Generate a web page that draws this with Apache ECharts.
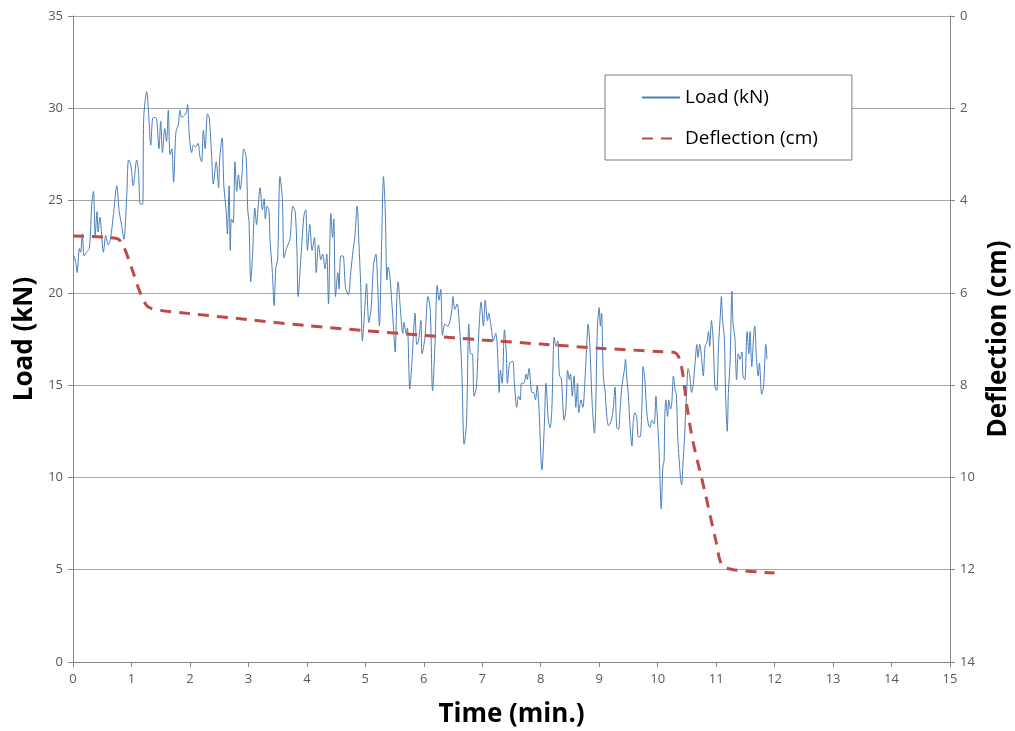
<!DOCTYPE html>
<html>
<head>
<meta charset="utf-8">
<script src="https://cdn.jsdelivr.net/npm/echarts@6/dist/echarts.min.js"></script>
<style>html,body{margin:0;padding:0;background:#fff}#c{width:1015px;height:731px}</style>
</head>
<body>
<div id="c"></div>
<script>
var loadTime = [0.02,0.05,0.07,0.11,0.13,0.16,0.19,0.23,0.28,0.32,0.35,0.38,0.41,0.43,0.46,0.52,0.56,0.60,0.64,0.69,0.75,0.79,0.83,0.87,0.92,0.95,0.99,1.03,1.09,1.12,1.15,1.19,1.21,1.26,1.29,1.33,1.37,1.42,1.47,1.50,1.53,1.57,1.60,1.63,1.66,1.69,1.72,1.76,1.80,1.83,1.86,1.90,1.94,1.96,1.99,2.03,2.06,2.10,2.14,2.17,2.20,2.23,2.26,2.30,2.33,2.37,2.40,2.45,2.49,2.51,2.55,2.58,2.62,2.64,2.67,2.69,2.71,2.74,2.77,2.80,2.83,2.86,2.89,2.92,2.96,2.99,3.01,3.04,3.07,3.11,3.14,3.17,3.20,3.24,3.27,3.29,3.32,3.35,3.37,3.41,3.44,3.47,3.50,3.54,3.58,3.61,3.65,3.71,3.76,3.80,3.83,3.85,3.90,3.95,3.98,4.01,4.05,4.09,4.13,4.16,4.20,4.24,4.27,4.31,4.34,4.37,4.41,4.44,4.46,4.49,4.53,4.55,4.58,4.62,4.66,4.71,4.75,4.79,4.82,4.86,4.89,4.92,4.95,4.98,5.02,5.06,5.10,5.14,5.18,5.21,5.24,5.28,5.31,5.34,5.37,5.39,5.42,5.45,5.48,5.51,5.54,5.56,5.60,5.64,5.66,5.70,5.72,5.76,5.80,5.85,5.88,5.91,5.95,5.97,6.02,6.07,6.11,6.15,6.19,6.23,6.26,6.29,6.32,6.36,6.41,6.45,6.48,6.50,6.53,6.57,6.61,6.65,6.69,6.73,6.77,6.80,6.83,6.86,6.90,6.94,6.98,7.02,7.05,7.09,7.11,7.15,7.19,7.23,7.26,7.29,7.31,7.34,7.38,7.41,7.43,7.47,7.52,7.55,7.59,7.62,7.65,7.67,7.71,7.75,7.77,7.80,7.85,7.88,7.91,7.94,7.97,8.02,8.06,8.09,8.13,8.16,8.19,8.23,8.26,8.29,8.32,8.35,8.38,8.40,8.43,8.46,8.49,8.51,8.54,8.57,8.60,8.63,8.65,8.69,8.72,8.76,8.79,8.81,8.84,8.88,8.92,8.94,8.97,9.00,9.02,9.04,9.07,9.10,9.13,9.16,9.18,9.21,9.24,9.27,9.30,9.33,9.36,9.39,9.43,9.45,9.47,9.50,9.53,9.56,9.58,9.61,9.64,9.67,9.70,9.73,9.75,9.78,9.81,9.84,9.87,9.90,9.94,9.97,9.99,10.02,10.04,10.06,10.09,10.11,10.12,10.14,10.17,10.19,10.22,10.24,10.27,10.30,10.32,10.34,10.36,10.39,10.41,10.43,10.46,10.48,10.50,10.52,10.55,10.58,10.61,10.64,10.67,10.69,10.72,10.75,10.78,10.81,10.84,10.87,10.89,10.92,10.95,10.98,11.01,11.04,11.07,11.09,11.11,11.14,11.16,11.19,11.21,11.24,11.27,11.29,11.32,11.35,11.38,11.41,11.44,11.46,11.49,11.53,11.56,11.58,11.61,11.64,11.66,11.69,11.72,11.74,11.78,11.81,11.85,11.87];
var loadValues = [22.0,21.6,21.1,22.4,22.2,23.2,22.0,22.2,22.4,24.8,25.5,23.1,24.4,23.3,24.1,22.2,23.1,22.6,22.9,24.2,25.8,24.4,23.7,22.9,25.3,27.2,26.9,25.8,27.2,26.6,24.8,24.8,29.5,30.9,29.9,28.0,29.5,29.5,27.8,29.3,27.6,28.9,28.2,29.9,27.5,27.8,26.0,28.7,29.1,29.9,29.5,29.6,29.8,30.2,28.5,27.6,28.0,27.9,28.1,27.4,27.1,28.8,27.8,29.7,29.5,27.5,25.9,27.1,25.7,27.3,28.4,25.8,24.4,23.2,25.8,22.3,24.0,23.8,27.1,25.5,26.4,25.6,26.4,27.8,27.4,24.4,23.9,20.6,22.0,24.6,23.7,24.8,25.7,24.5,25.1,24.0,24.7,24.5,22.9,21.1,19.3,21.4,21.8,26.3,25.1,21.9,22.4,22.9,24.7,24.4,22.3,19.8,22.0,24.2,24.5,22.3,23.7,22.3,23.0,21.1,22.6,21.8,22.1,21.3,22.1,19.4,24.3,23.0,24.0,19.8,21.1,20.2,22.0,22.0,20.3,19.9,21.1,22.3,23.0,24.7,22.7,20.5,17.4,18.6,20.5,18.4,19.2,21.5,22.1,20.5,18.2,22.9,26.3,24.5,20.7,21.4,20.9,19.6,18.2,16.8,19.8,20.6,19.1,17.8,18.4,17.8,18.1,14.8,16.4,18.9,17.2,17.4,18.5,16.7,17.6,19.8,19.1,14.7,17.1,20.4,19.6,20.2,17.7,18.3,18.2,18.5,19.1,19.8,19.1,19.4,18.2,15.8,11.8,12.9,18.3,16.7,16.7,14.4,14.9,17.8,19.5,18.2,19.6,18.5,18.9,18.2,17.4,17.8,16.9,14.6,15.8,15.1,18.0,16.8,15.1,16.2,16.3,15.1,13.8,14.4,14.2,15.1,15.1,15.6,15.3,15.9,14.6,14.6,14.2,15.0,13.7,10.4,12.7,15.1,13.1,12.7,13.7,17.6,17.1,17.4,15.5,15.4,13.8,13.1,13.7,15.8,15.3,15.6,14.4,15.5,13.8,15.1,13.5,14.2,13.8,15.5,17.4,18.3,17.1,14.0,12.4,13.8,18.2,19.2,18.2,18.9,15.5,14.7,13.3,12.8,12.9,13.1,13.7,14.9,12.7,12.6,13.8,15.0,15.8,16.4,15.5,14.4,12.7,11.7,12.9,13.5,13.3,12.2,12.2,13.8,16.0,15.3,13.7,12.9,12.7,13.1,12.9,14.4,13.5,11.7,9.9,8.3,10.6,10.9,13.1,14.2,13.3,14.2,13.7,14.0,15.5,14.7,14.5,12.4,11.3,10.0,9.6,10.6,12.2,13.7,14.9,15.9,15.5,14.6,15.1,16.2,17.2,16.5,17.2,16.5,15.5,17.1,17.3,17.9,17.1,18.5,17.4,14.9,14.7,17.1,18.7,19.8,18.5,17.6,14.7,12.5,14.6,16.4,20.1,18.3,17.6,15.3,16.7,16.4,16.8,15.5,15.3,17.9,16.7,17.9,16.0,17.6,18.2,16.4,15.5,16.2,14.5,14.9,17.2,16.4];
var deflTime = [0,0.75,0.85,1.0,1.15,1.28,1.5,2,3,4,5,6,7,8,9,10,10.3,10.4,10.5,10.6,10.8,11.0,11.1,11.3,12.0];
var deflValues = [4.77,4.82,4.95,5.45,6.0,6.3,6.38,6.45,6.58,6.71,6.82,6.92,7.02,7.11,7.2,7.27,7.3,7.55,8.45,9.2,10.27,11.4,11.9,12.0,12.07];
var names = {time:'Time (min.)', load:'Load (kN)', defl:'Deflection (cm)'};

function pairs(xs, ys){ return xs.map(function(x,i){ return [x, ys[i]]; }); }

var chart = echarts.init(document.getElementById('c'));
var axisCol = '#868686';
var labelStyle = {color:'#595959', fontSize:13, fontFamily:'Open Sans'};
var nameStyle = {color:'#000', fontSize:26, fontWeight:'bold', fontFamily:'Open Sans'};
chart.setOption({
  animation:false,
  backgroundColor:'#fff',
  grid:{left:73, right:65, top:16, bottom:69, containLabel:false, outerBoundsMode:'none'},
  legend:{
    orient:'vertical', left:605, top:75,
    backgroundColor:'#fff', borderColor:'#7f7f7f', borderWidth:1,
    padding:[13,34,12,36], itemGap:22, itemWidth:38, itemHeight:14,
    itemStyle:{opacity:0},
    textStyle:{fontSize:19, color:'#000', fontFamily:'Open Sans'},
    data:[names.load, names.defl]
  },
  xAxis:{
    type:'value', min:0, max:15, interval:1,
    name:names.time, nameLocation:'middle', nameGap:40, nameTextStyle:nameStyle,
    axisLine:{show:true, lineStyle:{color:axisCol}},
    axisTick:{show:true, length:5, lineStyle:{color:axisCol}},
    axisLabel:Object.assign({margin:11}, labelStyle),
    splitLine:{show:false}
  },
  yAxis:[{
    type:'value', min:0, max:35, interval:5,
    name:names.load, nameLocation:'middle', nameGap:30, nameTextStyle:nameStyle,
    axisLine:{show:true, lineStyle:{color:axisCol}},
    axisTick:{show:true, length:5, lineStyle:{color:axisCol}},
    axisLabel:Object.assign({margin:10}, labelStyle),
    splitLine:{show:true, lineStyle:{color:'#a6a6a6', width:1}}
  },{
    type:'value', min:0, max:14, interval:2, inverse:true, position:'right',
    name:names.defl, nameLocation:'middle', nameGap:36, nameTextStyle:nameStyle,
    axisLine:{show:true, lineStyle:{color:axisCol}},
    axisTick:{show:true, length:5, lineStyle:{color:axisCol}},
    axisLabel:Object.assign({margin:10}, labelStyle),
    splitLine:{show:false}
  }],
  series:[{
    name:names.load, type:'line', yAxisIndex:0,
    data:pairs(loadTime, loadValues),
    showSymbol:false, symbol:'none', smooth:0.3,
    lineStyle:{color:'#4a7ebb', width:1},
    itemStyle:{color:'#4a7ebb'}
  },{
    name:names.defl, type:'line', yAxisIndex:1,
    data:pairs(deflTime, deflValues),
    showSymbol:false, symbol:'none', smooth:0.3,
    lineStyle:{color:'#be4b48', width:3, type:[11,8]},
    itemStyle:{color:'#be4b48'}
  }]
});
</script>
</body>
</html>
